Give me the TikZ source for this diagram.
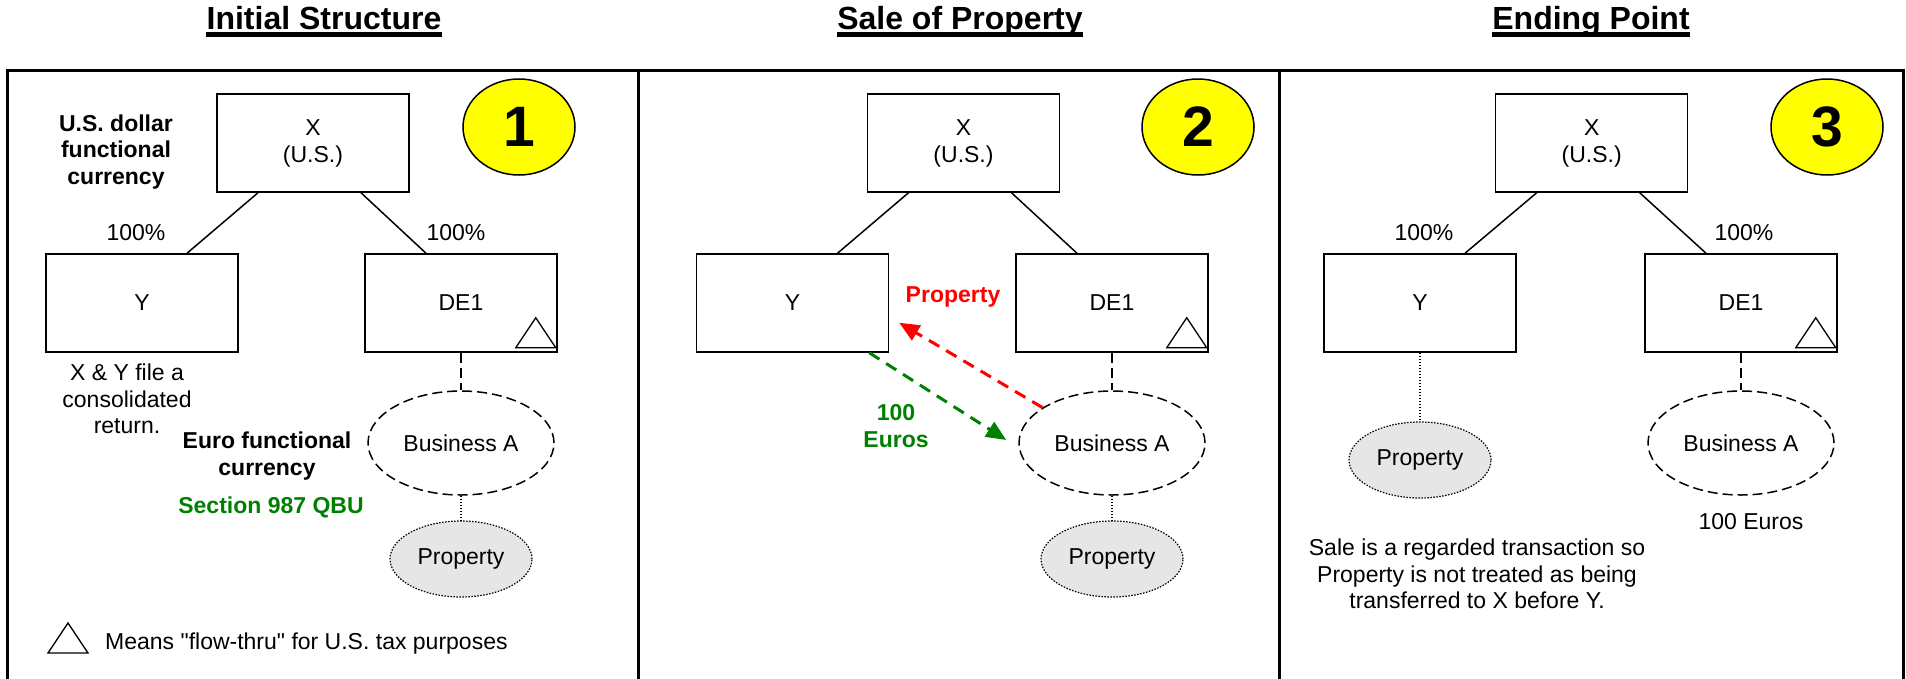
\documentclass[tikz,border=0pt]{standalone}
\usepackage{fontspec}
\setmainfont{Liberation Sans}[Ligatures=TeXOff]
\usetikzlibrary{shapes.geometric,arrows.meta,calc}
\definecolor{qyellow}{HTML}{FFFF00}
\definecolor{qgreen}{HTML}{008000}
\definecolor{qred}{HTML}{FF0000}
\definecolor{qgray}{HTML}{E6E6E6}
\newcommand\detri[1]{\draw[line width=1.3] ($(#1.south east)+(-42,-5)$) -- ($(#1.south east)+(-2,-5)$) -- ($(#1.south east)+(-22,-35)$) -- cycle;}
\begin{document}
\begin{tikzpicture}[x=1pt,y=-1pt,
  body/.style={font=\fontsize{23}{26.5}\selectfont, align=center, inner sep=0},
  bodybold/.style={font=\fontsize{23}{26.5}\selectfont\bfseries, align=center, inner sep=0},
  head/.style={font=\fontsize{32}{32}\selectfont\bfseries, inner sep=0, anchor=base},
  entity/.style={draw, line width=1.5, minimum width=192, minimum height=98, inner sep=0, font=\fontsize{23}{27}\selectfont, align=center},
  numc/.style={ellipse, draw, fill=qyellow, line width=1.5, minimum width=112, minimum height=96, inner sep=0, font=\fontsize{57}{57}\selectfont\bfseries},
  bizA/.style={ellipse, draw, line width=1.5, dash pattern=on 10pt off 5pt, minimum width=186, minimum height=104, inner sep=0, font=\fontsize{23}{27}\selectfont},
  prop/.style={ellipse, draw, fill=qgray, line width=1.2, dash pattern=on 1.5pt off 1.5pt, minimum width=142, minimum height=76, inner sep=0, font=\fontsize{23}{27}\selectfont},
  own/.style={line width=1.5},
  dlink/.style={line width=1.5, dash pattern=on 10pt off 5pt},
  plink/.style={line width=1.2, dash pattern=on 1.5pt off 1.5pt},
  flow/.style={line width=3, dash pattern=on 12pt off 8pt, -{Triangle[length=20pt,width=17pt]}},
  frame/.style={line width=3}
]
\useasboundingbox (0,0) rectangle (1906,678);

% headings
\node[head] (h1) at (324,29.5) {Initial Structure};
\node[head] (h2) at (960,29.5) {Sale of Property};
\node[head] (h3) at (1591,29.5) {Ending Point};
\foreach \h in {h1,h2,h3} {\draw[line width=4.5] ($(\h.base west)+(0,5.2)$) -- ($(\h.base east)+(0,5.2)$);}

% frame
\draw[frame] (7,680) -- (7,70.7) -- (1903.5,70.7) -- (1903.5,680);
\draw[frame] (638,70.7) -- (638,680);
\draw[frame] (1279,70.7) -- (1279,680);

% ---------- panel 1 ----------
\node[entity] (x1) at (313,143) {X\\(U.S.)};
\node[entity] (y1) at (142,303) {Y};
\node[entity] (d1) at (461,303) {DE1};
\node[numc] (n1) at (519,127) {1};
\node[bizA] (b1) at (461,443) {Business A};
\node[prop] (p1) at (461,559) {Property};
\detri{d1}
\draw[own] ($(x1.south)+(-55,0)$) -- ($(y1.north)+(45,0)$);
\draw[own] ($(x1.south)+(48,0)$) -- ($(d1.north)+(-35,0)$);
\draw[dlink] (d1.south) -- (b1.north);
\draw[plink] (b1.south) -- (p1.north);
\node[body] (l1a) at (136,233) {100\%};
\node[body] (l1b) at (456,233) {100\%};
\node[bodybold] (t1a) at (116,152) {U.S. dollar\\functional\\currency};
\node[body] (t1b) at (127,399) {X \& Y file a\\consolidated\\return.};
\node[bodybold] (t1c) at (267,456) {Euro functional\\currency};
\node[bodybold, text=qgreen] (t1d) at (271,507) {Section 987 QBU};
\draw[line width=1.3] (48,653) -- (88,653) -- (68,623) -- cycle;
\node[body, anchor=west] (t1e) at (105,644) {Means "flow-thru" for U.S. tax purposes};

% ---------- panel 2 ----------
\node[entity] (x2) at (963.5,143) {X\\(U.S.)};
\node[entity] (y2) at (792.5,303) {Y};
\node[entity] (d2) at (1112,303) {DE1};
\node[numc] (n2) at (1198,127) {2};
\node[bizA] (b2) at (1112,443) {Business A};
\node[prop] (p2) at (1112,559) {Property};
\detri{d2}
\draw[own] ($(x2.south)+(-55,0)$) -- ($(y2.north)+(45,0)$);
\draw[own] ($(x2.south)+(48,0)$) -- ($(d2.north)+(-35,0)$);
\draw[dlink] (d2.south) -- (b2.north);
\draw[plink] (b2.south) -- (p2.north);
\draw[flow, qred] (b2.153) -- ($(y2.south east)+(10,-30)$);
\draw[flow, qgreen] ($(y2.south east)+(-20,0)$) -- ($(b2.west)+(-12,-3)$);
\node[bodybold, text=qred] (t2a) at (953,297) {Property};
\node[bodybold, text=qgreen] (t2b) at (896,426) {100\\Euros};

% ---------- panel 3 ----------
\node[entity] (x3) at (1591.7,143) {X\\(U.S.)};
\node[entity] (y3) at (1420,303) {Y};
\node[entity] (d3) at (1741,303) {DE1};
\node[numc] (n3) at (1827,127) {3};
\node[bizA] (b3) at (1741,443) {Business A};
\node[prop] (p3) at (1420,460) {Property};
\detri{d3}
\draw[own] ($(x3.south)+(-55,0)$) -- ($(y3.north)+(45,0)$);
\draw[own] ($(x3.south)+(48,0)$) -- ($(d3.north)+(-35,0)$);
\draw[dlink] (d3.south) -- (b3.north);
\draw[plink] (y3.south) -- (p3.north);
\node[body] (l3a) at (1424,233) {100\%};
\node[body] (l3b) at (1744,233) {100\%};
\node[body] (t3a) at (1751,522) {100 Euros};
\node[body] (t3b) at (1477,574) {Sale is a regarded transaction so\\Property is not treated as being\\transferred to X before Y.};
\end{tikzpicture}
\end{document}
